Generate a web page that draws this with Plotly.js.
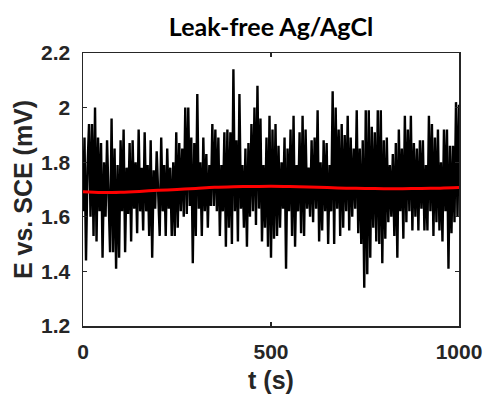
<!DOCTYPE html>
<html>
<head>
<meta charset="utf-8">
<script src="https://cdn.plot.ly/plotly-3.0.1.min.js"></script>
<style>html,body{margin:0;padding:0;background:#fff;}#chart{width:488px;height:400px;}</style>
</head>
<body>
<div id="chart"></div>
<script>
// Potential samples (mV), one every 4 s from t = 0 s
var potential = [
1.62,1.89,1.44,1.78,1.94,1.60,1.94,1.53,2.00,1.51,
1.89,1.62,1.87,1.45,1.80,1.60,1.88,1.63,1.47,1.96,
1.47,1.85,1.41,1.79,1.45,1.88,1.62,1.92,1.47,1.78,
1.61,1.87,1.51,1.88,1.63,1.80,1.54,1.92,1.62,1.78,
1.55,1.91,1.62,1.79,1.53,1.88,1.45,1.77,1.63,1.84,
1.66,1.53,1.89,1.62,1.79,1.53,1.85,1.63,1.78,1.53,
1.80,1.53,1.91,1.56,1.87,1.62,1.85,1.60,2.00,1.61,
2.00,1.64,1.89,1.43,1.87,1.53,2.05,1.63,1.80,1.53,
1.89,1.62,1.83,1.56,1.79,1.64,1.94,1.64,1.92,1.62,
1.89,1.53,1.79,1.62,1.91,1.49,1.92,1.56,1.91,1.50,
2.14,1.62,1.88,1.51,2.05,1.63,1.79,1.56,1.85,1.49,
1.87,1.60,1.94,1.62,2.00,1.57,2.08,1.63,1.96,1.51,
1.79,1.56,1.89,1.49,1.97,1.45,1.92,1.52,1.94,1.53,
1.86,1.56,1.80,1.63,1.89,1.41,1.85,1.62,1.92,1.53,
1.97,1.49,1.79,1.62,1.91,1.54,1.97,1.53,1.92,1.63,
1.78,1.60,1.88,1.58,1.89,1.63,1.99,1.51,1.80,1.55,
1.88,1.62,1.87,1.50,1.79,1.62,2.06,1.50,2.00,1.63,
1.92,1.53,1.94,1.56,1.90,1.62,1.97,1.55,1.89,1.60,
1.85,1.63,1.99,1.54,1.85,1.50,1.88,1.34,1.99,1.39,
1.99,1.45,1.93,1.56,1.91,1.51,1.99,1.50,1.99,1.43,
1.88,1.52,1.89,1.58,1.79,1.60,1.83,1.53,1.87,1.45,
1.92,1.62,1.85,1.52,1.97,1.58,1.92,1.62,1.97,1.55,
1.87,1.60,1.85,1.55,1.88,1.63,1.88,1.55,1.79,1.55,
1.97,1.62,1.94,1.53,1.89,1.58,1.92,1.55,1.80,1.51,
1.92,1.62,1.92,1.41,1.86,1.54,1.86,1.58,2.02,1.60,
2.01
];
var sampleStep = 4;

// Smoothed trend (mV), one every 50 s from t = 0 s
var trend = [1.692,1.689,1.690,1.693,1.697,1.700,1.704,1.708,1.710,1.711,
             1.712,1.711,1.709,1.707,1.705,1.704,1.703,1.703,1.704,1.705,1.707];
var trendStep = 50;

var xTicks = [0, 500, 1000];
var yTicks = [1.2, 1.4, 1.6, 1.8, 2.0, 2.2];
var yTickText = ['1.2', '1.4', '1.6', '1.8', '2', '2.2'];

var traces = [
  {type: 'scatter', mode: 'lines', x0: 0, dx: sampleStep, y: potential,
   line: {color: '#000000', width: 2.4}, hoverinfo: 'skip'},
  {type: 'scatter', mode: 'lines', x0: 0, dx: trendStep, y: trend,
   line: {color: '#ff0000', width: 3, shape: 'spline'}, hoverinfo: 'skip'}
];

var axisCommon = {
  showline: true, linecolor: '#262626', linewidth: 1.5, mirror: 'ticks',
  ticks: 'inside', ticklen: 4, tickwidth: 1.2, tickcolor: '#262626',
  showgrid: false, zeroline: false,
  tickfont: {family: 'Liberation Sans, Arial, sans-serif', size: 21, color: '#262626', weight: 700}
};

var layout = {
  width: 488, height: 400,
  margin: {l: 83, r: 29, t: 53, b: 74},
  paper_bgcolor: '#ffffff', plot_bgcolor: '#ffffff',
  showlegend: false,
  title: {text: 'Leak-free Ag/AgCl', x: 0.5, xref: 'paper', y: 1 - 27/400, yref: 'container', yanchor: 'middle',
          font: {family: 'Lato, Open Sans, sans-serif', size: 25, color: '#000000', weight: 700}},
  xaxis: Object.assign({}, axisCommon, {
    range: [0, 1000], tickvals: xTicks, ticktext: xTicks.map(String), ticklabelstandoff: 6,
    title: {text: 't (s)', standoff: 10, font: {family: 'Liberation Sans, Arial, sans-serif', size: 25, color: '#262626', weight: 700}}
  }),
  yaxis: Object.assign({}, axisCommon, {
    range: [1.2, 2.2], tickvals: yTicks, ticktext: yTickText, ticklabelstandoff: 7,
    title: {text: 'E vs. SCE (mV)', standoff: 1, font: {family: 'Liberation Sans, Arial, sans-serif', size: 25, color: '#262626', weight: 700}}
  })
};

Plotly.newPlot('chart', traces, layout, {staticPlot: true, displayModeBar: false});
</script>
</body>
</html>
